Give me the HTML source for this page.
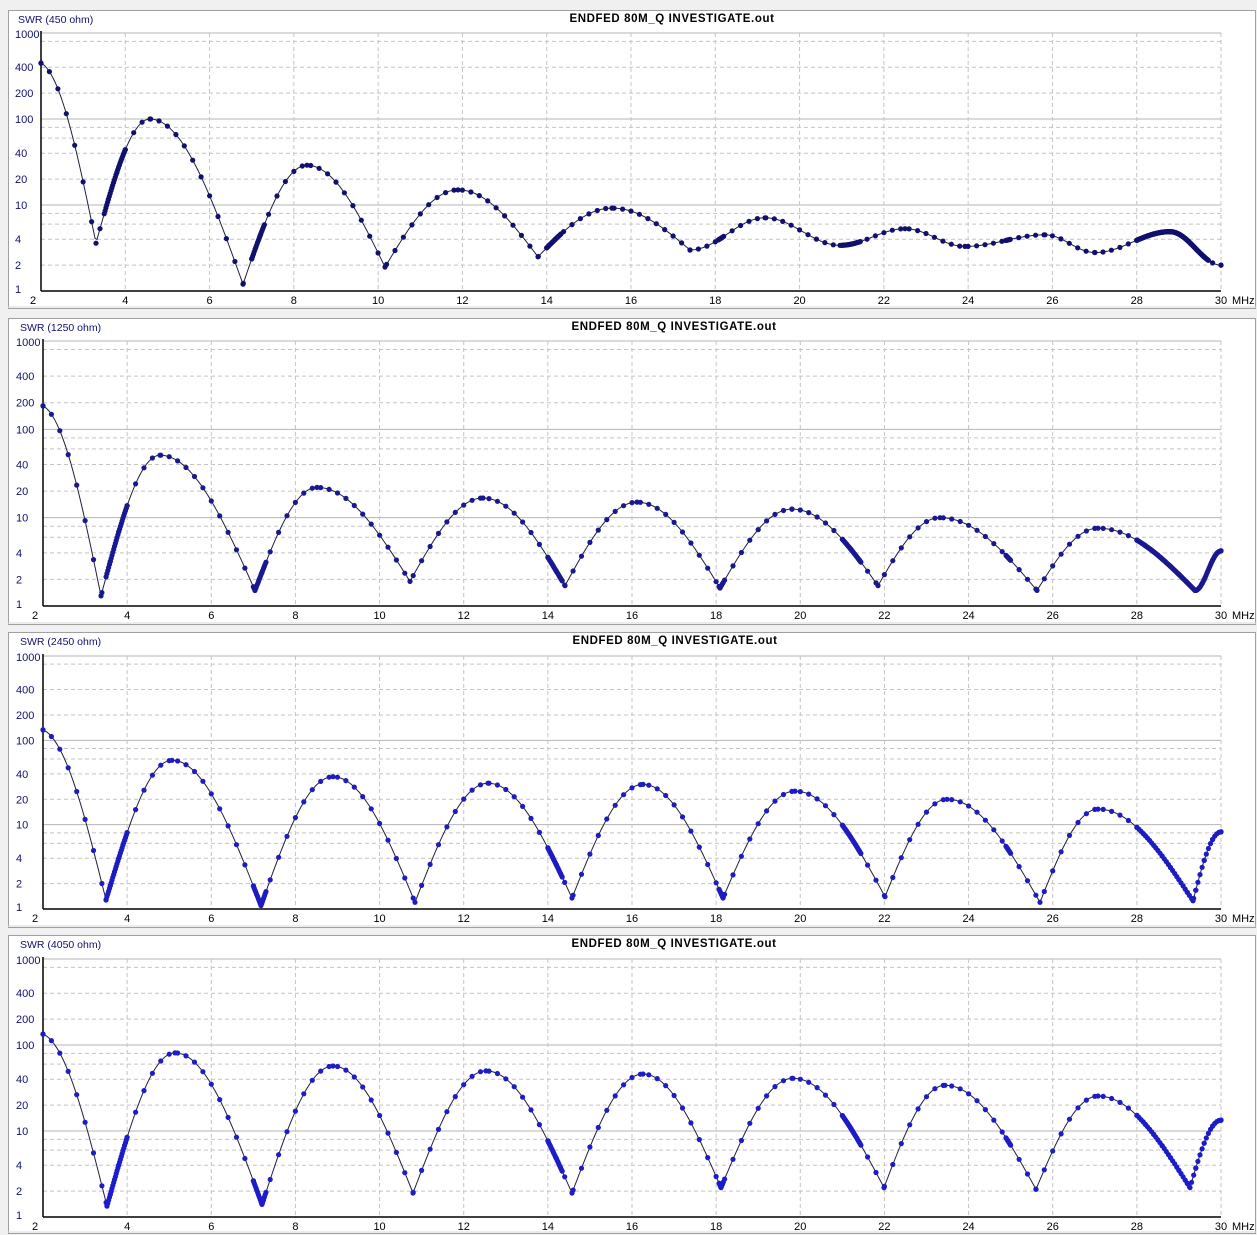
<!DOCTYPE html>
<html><head><meta charset="utf-8">
<style>
html,body{margin:0;padding:0;background:#f0f0f0;width:1257px;height:1235px;overflow:hidden}
svg{display:block}
text{font-family:"Liberation Sans",sans-serif}
</style></head>
<body>
<svg id="s" width="1257" height="1235" xmlns="http://www.w3.org/2000/svg">
<rect x="0" y="0" width="1257" height="1235" fill="#f0f0f0"/>
<g id="frames"></g>
<g id="g"></g>
<g font-size="11">
<text x="672" y="22" text-anchor="middle" font-weight="bold" font-size="11.5" letter-spacing="0.6">ENDFED 80M_Q INVESTIGATE.out</text>
<text x="18" y="23" fill="#10106e" font-size="10.5">SWR (450 ohm)</text>
<text x="674" y="330" text-anchor="middle" font-weight="bold" font-size="11.5" letter-spacing="0.6">ENDFED 80M_Q INVESTIGATE.out</text>
<text x="20" y="331" fill="#10106e" font-size="10.5">SWR (1250 ohm)</text>
<text x="675" y="644" text-anchor="middle" font-weight="bold" font-size="11.5" letter-spacing="0.6">ENDFED 80M_Q INVESTIGATE.out</text>
<text x="20" y="645" fill="#10106e" font-size="10.5">SWR (2450 ohm)</text>
<text x="674" y="947" text-anchor="middle" font-weight="bold" font-size="11.5" letter-spacing="0.6">ENDFED 80M_Q INVESTIGATE.out</text>
<text x="20" y="948" fill="#10106e" font-size="10.5">SWR (4050 ohm)</text>
</g>
</svg>
<script>
var NS="http://www.w3.org/2000/svg";
var G=document.getElementById('g'),F=document.getElementById('frames');
function el(p,n,a,t){var e=document.createElementNS(NS,n);for(var k in a)e.setAttribute(k,a[k]);if(t!==undefined)e.textContent=t;p.appendChild(e);return e;}
var panels=[
 {fy0:10,fy1:308,x0:41,x1:1221,top:33,bot:291,col:"#10106e",
  pts:[[41,447],[96,3.6],[150,100],[243,1.2],[307,29],[385,1.9],[458,15],[538,2.5],[612,9.2],[690,3.0],[765,7.1],[840,3.4],[905,5.3],[965,3.3],[1045,4.5],[1095,2.8],[1170,4.9],[1221,2.0]]},
 {fy0:318,fy1:624,x0:43,x1:1221,top:341,bot:606,col:"#181890",
  pts:[[43,184],[101,1.3],[160,51],[255,1.5],[317,22],[410,1.9],[483,16.7],[565,1.7],[637,15],[720,1.6],[792,12.5],[878,1.7],[940,10],[1037,1.5],[1098,7.6],[1195,1.5],[1221,4.2]]},
 {fy0:632,fy1:927,x0:43,x1:1221,top:656,bot:909,col:"#1c1cc0",
  pts:[[43,133],[106,1.28],[172,58],[261,1.1],[333,37],[415,1.2],[488,31],[572,1.35],[643,30],[723,1.35],[795,25],[885,1.4],[947,20],[1040,1.2],[1098,15.3],[1193,1.25],[1221,8.2]]},
 {fy0:935,fy1:1233,x0:43,x1:1221,top:959,bot:1217,col:"#1c1cc8",
  pts:[[43,134],[107,1.34],[175,81],[262,1.4],[333,57],[413,1.9],[486,50],[572,1.9],[643,46],[721,2.2],[793,41],[884,2.2],[945,34],[1036,2.1],[1098,25.5],[1190,2.2],[1221,13.4]]}
];
var bands=[[3.5,4.0],[7.0,7.3],[14.0,14.35],[18.07,18.17],[21.0,21.45],[24.89,24.99],[28.0,29.7]];
panels.forEach(function(P,pi){
 el(F,'rect',{x:8.5,y:P.fy0+0.5,width:1247,height:P.fy1-P.fy0,fill:'#fff',stroke:'#a0a0a0'});
 el(F,'line',{x1:8,y1:P.fy1-1,x2:1256,y2:P.fy1-1,stroke:'#d8d8d8'});
 var dec=(P.bot-P.top)/3;
 function Y(s){return P.bot-Math.log10(s)*dec;}
 var k=(P.x1-P.x0)/28;
 function X(f){return P.x0+(f-2)*k;}
 for(var d=0;d<3;d++){
  var base=Math.pow(10,d);
  var ms=d==2?[2,4,8]:[2,4,6,8];
  ms.forEach(function(m){var y=Y(base*m);el(G,'line',{x1:P.x0,y1:y,x2:P.x1,y2:y,stroke:'#c4c4c4','stroke-dasharray':'4,3'});});
  if(d>0){var y=Y(base);el(G,'line',{x1:P.x0,y1:y,x2:P.x1,y2:y,stroke:'#b4b4b4'});}
 }
 el(G,'line',{x1:P.x0,y1:P.top,x2:P.x1,y2:P.top,stroke:'#b4b4b4'});
 for(var f=4;f<=28;f+=2){var x=X(f);el(G,'line',{x1:x,y1:P.top,x2:x,y2:P.bot,stroke:'#c4c4c4','stroke-dasharray':'4,3'});}
 el(G,'line',{x1:P.x1,y1:P.top,x2:P.x1,y2:P.bot,stroke:'#c4c4c4','stroke-dasharray':'4,3'});
 el(G,'line',{x1:P.x0,y1:P.top-2,x2:P.x0,y2:P.bot,stroke:'#000','stroke-width':1.5});
 el(G,'line',{x1:P.x0,y1:P.bot,x2:P.x1,y2:P.bot,stroke:'#000','stroke-width':1.5});
 [[1000,'1000'],[400,'400'],[200,'200'],[100,'100'],[40,'40'],[20,'20'],[10,'10'],[4,'4'],[2,'2'],[1,'1']].forEach(function(a){
  var y=Y(a[0]);if(a[0]==1000)y+=1;if(a[0]==1)y-=2;
  el(G,'text',{x:pi==0?15:16,y:y+4,'font-size':11,fill:'#10106e'},a[1]);
 });
 for(var f=2;f<=30;f+=2){el(G,'text',{x:X(f)+(f==2?-8:0),y:P.bot+13,'font-size':11,'text-anchor':'middle'},String(f));}
 el(G,'text',{x:1232,y:P.bot+13,'font-size':11},'MHz');
 var pts=P.pts;
 function swrAt(px){
  for(var i=0;i<pts.length-1;i++){
   var a=pts[i],b=pts[i+1];
   if(px>=a[0]&&px<=b[0]){
    var t=(px-a[0])/(b[0]-a[0]);
    var la=Math.log10(a[1]),lb=Math.log10(b[1]);
    var amp=Math.abs(lb-la),f;
    var shallow=amp<0.45;
    if(la<lb){ f=shallow?(1-Math.cos(t*Math.PI))/2:Math.sin(t*Math.PI/2); }
    else { f=shallow?(1-Math.cos(t*Math.PI))/2:1-Math.cos(t*Math.PI/2); }
    if(i==0)f=shallow?f:t*0.15+f*0.85;
    return Math.pow(10,la+(lb-la)*f);
   }
  }
  return pts[pts.length-1][1];
 }
 var freqs=[];
 for(var f=2;f<=30.0001;f+=0.2)freqs.push(f);
 bands.forEach(function(b){var st=(pi>=2&&b[0]==28)?0.05:0.02;var e=b[1];if(pi>=1&&b[0]==28)e=30;
   if(pi==0&&b[0]==28)st=0.01;
   for(var f=b[0];f<=e+1e-6;f+=st)freqs.push(f);});
 freqs.sort(function(a,b){return a-b});
 var line=[];
 for(var px=P.x0;px<=P.x1;px+=2){line.push([px,Y(swrAt(px))]);}
 var d='M'+line.map(function(p){return p[0].toFixed(1)+','+p[1].toFixed(1)}).join('L');
 el(G,'path',{d:d,fill:'none',stroke:'#202040','stroke-width':1});
 freqs.forEach(function(f){var x=X(f);if(x>P.x1)x=P.x1;el(G,'circle',{cx:x.toFixed(1),cy:Y(swrAt(x)).toFixed(1),r:2.6,fill:P.col});});
 pts.forEach(function(p){el(G,'circle',{cx:p[0],cy:Y(p[1]).toFixed(1),r:2.6,fill:P.col});});
});
</script>
</body></html>
